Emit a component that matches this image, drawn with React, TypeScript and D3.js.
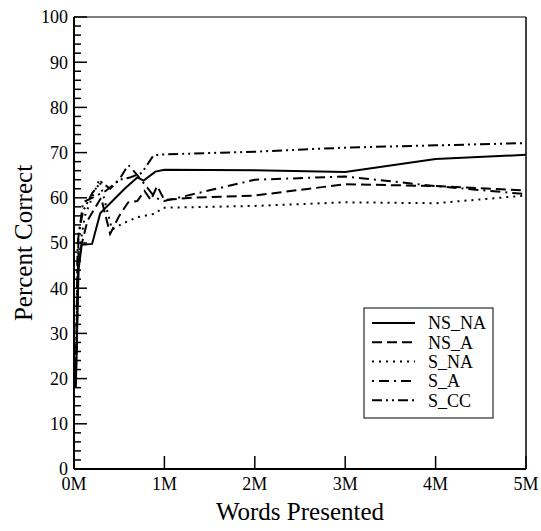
import React from 'react';
import * as d3 from 'd3';

// x in millions of words presented, y in percent correct
const nsNa = [
	[0.02, 18], [0.05, 44], [0.085, 49.6], [0.2, 49.8], [0.29, 56.6], [0.56, 62],
	[0.7, 64.5], [0.77, 63.8], [0.9, 65.8], [1.0, 66.2], [2, 66.1], [3, 65.7], [4, 68.6], [5, 69.5],
];
const nsA = [
	[0.02, 19], [0.05, 47], [0.15, 55], [0.3, 60], [0.4, 52], [0.5, 56], [0.6, 59], [0.7, 59.3],
	[0.78, 61.5], [0.85, 59.5], [0.92, 62.6], [1.0, 59.5], [1.3, 60], [2, 60.5], [3, 63], [4, 62.6], [5, 61.6],
];
const sNa = [
	[0.02, 19], [0.04, 46], [0.12, 56], [0.28, 64], [0.42, 53], [0.55, 54.4], [0.7, 55.7],
	[0.82, 56.2], [0.9, 56.5], [0.98, 57.8], [2, 58.2], [3, 59], [4, 58.8], [5, 60.5],
];
const sA = [
	[0.02, 19], [0.04, 50], [0.1, 59], [0.2, 60], [0.35, 61.5], [0.5, 64], [0.6, 67.3], [0.7, 65],
	[0.8, 62.5], [0.9, 60], [1.0, 59.3], [2, 64], [3, 64.7], [4, 62.6], [5, 60.8],
];
const sCc = [
	[0.02, 20], [0.05, 52], [0.1, 57], [0.2, 61], [0.3, 63.5], [0.4, 62], [0.5, 64], [0.62, 64.5],
	[0.75, 65.5], [0.88, 69.4], [1.0, 69.6], [2, 70.2], [3, 71.1], [4, 71.6], [5, 72.1],
];

const seriesNames = ['NS_NA', 'NS_A', 'S_NA', 'S_A', 'S_CC'];
const seriesData = [nsNa, nsA, sNa, sA, sCc];
const dashes = ['none', '10,5', '2,5', '2,5,10,5', '10,4,2,4,2,4'];

const xTicks = [0, 1, 2, 3, 4, 5];
const xTickLabels = ['0M', '1M', '2M', '3M', '4M', '5M'];
const yTicks = d3.range(0, 101, 10);
const yMinorTicks = d3.range(0, 101, 2);

const App = () => {
	const svgWidth = 541;
	const svgHeight = 531;
	const margin = { top: 17, right: 15, bottom: 62, left: 74 },
		width = svgWidth - margin.left - margin.right,
		height = svgHeight - margin.top - margin.bottom;

	const xScale = d3.scaleLinear().domain([0, 5]).range([0, width]);
	const yScale = d3.scaleLinear().domain([0, 100]).range([height, 0]);
	const line = d3
		.line<number[]>()
		.x((d) => xScale(d[0]))
		.y((d) => yScale(d[1]));

	const font = '"Liberation Serif", "Times New Roman", serif';
	const legend = { x: 364 - margin.left, y: 308 - margin.top, w: 129, h: 110 };

	return (
		<svg
			width={svgWidth}
			height={svgHeight}
			style={{ position: 'absolute', left: 0, top: 0, background: 'white' }}
			fontFamily={font}
		>
			<g transform={`translate(${margin.left},${margin.top})`}>
				{/* --- SERIES --- */}
				{seriesData.map((d, i) => (
					<path
						key={seriesNames[i]}
						d={line(d) || ''}
						fill='none'
						stroke='black'
						strokeWidth={2}
						strokeDasharray={dashes[i]}
					/>
				))}

				{/* --- FRAME --- */}
				<line x1={0} x2={width} y1={0} y2={0} stroke='#555' strokeWidth={1.5} />
				<line x1={width} x2={width} y1={0} y2={height} stroke='black' strokeWidth={1.5} />
				<line x1={0} x2={0} y1={0} y2={height} stroke='black' strokeWidth={2} />
				<line x1={0} x2={width} y1={height} y2={height} stroke='black' strokeWidth={2} />

				{/* --- Y AXIS --- */}
				{yMinorTicks.map((v) => (
					<line
						key={'m' + v}
						x1={0}
						x2={v % 10 === 0 ? 13 : 7}
						y1={yScale(v)}
						y2={yScale(v)}
						stroke='black'
						strokeWidth={1.5}
					/>
				))}
				{yTicks.map((v) => (
					<text
						key={'yl' + v}
						x={-6}
						y={yScale(v)}
						dy='0.35em'
						textAnchor='end'
						fontSize={18}
					>
						{v}
					</text>
				))}

				{/* --- X AXIS --- */}
				{xTicks.map((v, i) => (
					<g key={'x' + v} transform={`translate(${xScale(v)},${height})`}>
						<line y1={0} y2={-13} stroke='black' strokeWidth={1.5} />
						<text y={21} textAnchor='middle' fontSize={18}>
							{xTickLabels[i]}
						</text>
					</g>
				))}

				{/* --- LEGEND --- */}
				<rect
					x={legend.x}
					y={legend.y}
					width={legend.w}
					height={legend.h}
					fill='white'
					stroke='black'
					strokeWidth={1}
				/>
				{seriesNames.map((name, i) => {
					const ly = legend.y + 15 + i * 19.3;
					return (
						<g key={'lg' + name}>
							<line
								x1={legend.x + 8}
								x2={legend.x + 51}
								y1={ly}
								y2={ly}
								stroke='black'
								strokeWidth={2}
								strokeDasharray={dashes[i]}
							/>
							<text x={legend.x + 64} y={ly} dy='0.35em' fontSize={18}>
								{name}
							</text>
						</g>
					);
				})}
			</g>

			{/* --- AXIS TITLES --- */}
			<text x={margin.left + width / 2} y={520} textAnchor='middle' fontSize={25}>
				Words Presented
			</text>
			<text
				transform={`translate(32,${margin.top + height / 2}) rotate(-90)`}
				textAnchor='middle'
				fontSize={25}
			>
				Percent Correct
			</text>
		</svg>
	);
};

export default App;
